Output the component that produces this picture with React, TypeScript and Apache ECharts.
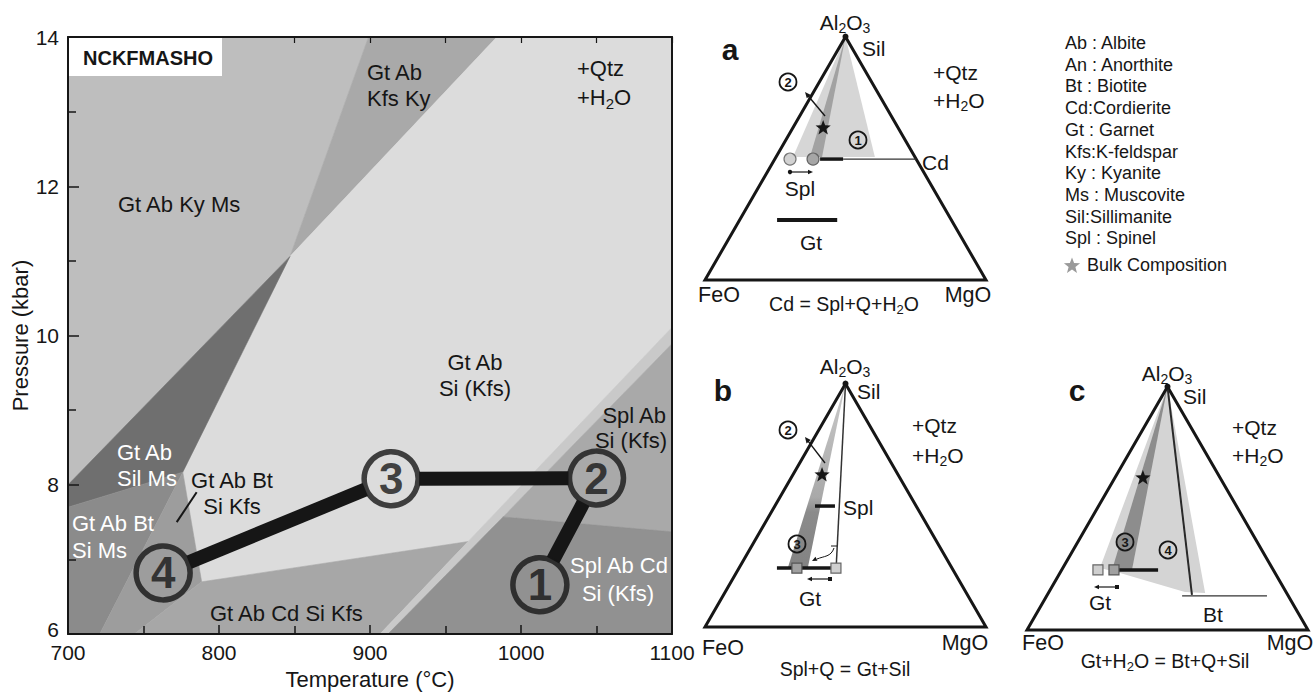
import React, { useEffect, useRef } from "react";
import * as echarts from "echarts";

const FONT = '"Liberation Sans", Arial, Helvetica, sans-serif';
const INK = "#161616";

// ---------- P-T pseudosection (left) ----------
const T_MIN = 700, T_MAX = 1100, T_STEP = 100;
const P_MIN = 6, P_MAX = 14, P_STEP = 2;

// phase fields, vertices [T (°C), P (kbar)]
const F_GT_AB_KY_MS = [[700, 14], [899, 14], [847, 11.06], [700, 8.0]];
const F_GT_AB_KFS_KY = [[899, 14], [984, 14], [847, 11.06]];
const F_GT_AB_SI_KFS = [[847, 11.06], [984, 14], [1100, 14], [1100, 10.11], [965, 7.24], [788.5, 6.7], [776, 8.17]];
const F_GT_AB_SIL_MS = [[847, 11.06], [776, 8.17], [700, 7.7], [700, 8.0]];
const F_GT_AB_BT_SI_MS = [[700, 7.7], [776, 8.17], [721, 6], [700, 6]];
const F_GT_AB_BT_SI_KFS = [[776, 8.17], [788.5, 6.7], [744, 6], [721, 6]];
const F_GT_AB_CD_SI_KFS = [[744, 6], [788.5, 6.7], [965, 7.24], [906.6, 6]];
const F_STRIP = [[906.6, 6], [1100, 10.11], [1100, 9.89], [911.9, 6]];
const F_SPL_AB_SI_KFS = [[988, 7.57], [1100, 9.89], [1100, 7.37]];
const F_SPL_AB_CD_SI_KFS = [[911.9, 6], [988, 7.57], [1100, 7.37], [1100, 6]];

const FIELDS = [
  F_GT_AB_KY_MS, F_GT_AB_KFS_KY, F_GT_AB_SI_KFS, F_GT_AB_SIL_MS, F_GT_AB_BT_SI_MS,
  F_GT_AB_BT_SI_KFS, F_GT_AB_CD_SI_KFS, F_STRIP, F_SPL_AB_SI_KFS, F_SPL_AB_CD_SI_KFS,
];
const FIELD_COLORS = [
  "#bebebe", "#a9a9a9", "#dcdcdc", "#6f6f6f", "#8b8b8b",
  "#9d9d9d", "#a7a7a7", "#c9c9c9", "#a9a9a9", "#919191",
];

// P-T path points 4 -> 3 -> 2 -> 1
const PATH_LABELS = ["4", "3", "2", "1"];
const PATH_T = [763, 914, 1050, 1012.5];
const PATH_P = [6.82, 8.08, 8.09, 6.66];
const LEADER = [[772, 7.5, 785.2, 7.9]];

// ---------- ternary diagrams (right): [Al2O3 fraction, MgO fraction] ----------
const A_LIGHT = [[1, 0], [0.505, 0.0605], [0.505, 0.352]];
const A_DARK = [[1, 0], [0.505, 0.121], [0.505, 0.164]];
const A_STAR = [0.625, 0.108];
const A_SPL_DOTS = [[0.497, 0.054], [0.497, 0.136]];
const A_SPL_BAR = [[0.497, 0.161], [0.497, 0.243]];
const A_CD_TIE = [[0.497, 0.243], [0.497, 0.503]];
const A_GT_BAR = [[0.247, 0.133], [0.247, 0.347]];

const B_WEDGE = [[1, 0], [0.247, 0.172], [0.247, 0.243]];
const B_TIE = [[1, 0], [0.25, 0.342]];
const B_STAR = [0.625, 0.104];
const B_SPL_BAR = [[0.497, 0.143], [0.497, 0.214]];
const B_GT_BAR = [[0.242, 0.135], [0.242, 0.334]];
const B_GT_SQ = [[0.242, 0.206], [0.242, 0.345]];

const C_LIGHT = [[1, 0], [0.255, 0.132], [0.234, 0.214], [0.156, 0.484], [0.152, 0.558]];
const C_DARK = [[1, 0], [0.247, 0.179], [0.247, 0.25]];
const C_TIE = [[1, 0], [0.144, 0.515]];
const C_BT = [[0.14, 0.482], [0.14, 0.784]];
const C_STAR = [0.625, 0.1];
const C_GT_BAR = [[0.247, 0.19], [0.247, 0.343]];
const C_GT_SQ = [[0.247, 0.129], [0.247, 0.186]];

const LEGEND_ITEMS = [
  "Ab : Albite", "An : Anorthite", "Bt : Biotite", "Cd:Cordierite", "Gt : Garnet",
  "Kfs:K-feldspar", "Ky : Kyanite", "Ms : Muscovite", "Sil:Sillimanite", "Spl : Spinel",
];

// ---------- helpers ----------
const TRI_SIDE = 281;
const TRI_H = (TRI_SIDE * Math.sqrt(3)) / 2;
const TA = [705, 280];
const TB = [705, 627];
const TC = [1027, 630];
function tp(o: number[], al: number, mg: number): number[] {
  return [o[0] + TRI_SIDE * (mg + al / 2), o[1] - TRI_H * al];
}
const tps = (o: number[], arr: number[][]) => arr.map((p) => tp(o, p[0], p[1]));

function chem(s: string): string {
  let out = "", buf = "";
  for (let i = 0; i < s.length; i++) {
    if (s[i] === "_") {
      if (buf) { out += `{n|${buf}}`; buf = ""; }
      out += `{s|${s[i + 1]}}`;
      i++;
    } else buf += s[i];
  }
  if (buf) out += `{n|${buf}}`;
  return out;
}

function txt(text: string, x: number, y: number, o: any = {}): any {
  const size = o.size ?? 22;
  const fill = o.fill ?? INK;
  const style: any = {
    x, y, fill, fontSize: size, fontFamily: FONT, fontWeight: o.weight ?? "normal",
    align: o.align ?? "left", verticalAlign: "middle",
  };
  if (text.indexOf("_") >= 0) {
    style.text = chem(text);
    style.rich = {
      n: { fontSize: size, fontFamily: FONT, fill, lineHeight: Math.round(size * 1.25), verticalAlign: "middle" },
      s: { fontSize: Math.round(size * 0.68), fontFamily: FONT, fill, lineHeight: Math.round(size * 0.68), verticalAlign: "bottom" },
    };
  } else style.text = text;
  return { type: "text", z: 60, silent: true, style };
}
function poly(points: number[][], fill: any, z = 20): any {
  return { type: "polygon", z, silent: true, shape: { points }, style: { fill, stroke: null } };
}
function outline(points: number[][], lw = 3): any {
  return { type: "polygon", z: 30, silent: true, shape: { points }, style: { fill: null, stroke: INK, lineWidth: lw, lineJoin: "miter" } };
}
function seg(a: number[], b: number[], lw: number, stroke = INK, z = 32): any {
  return { type: "line", z, silent: true, shape: { x1: a[0], y1: a[1], x2: b[0], y2: b[1] }, style: { stroke, lineWidth: lw } };
}
function dot(c: number[], r: number, fill: string, stroke: string | null = null, lw = 1, z = 34): any {
  return { type: "circle", z, silent: true, shape: { cx: c[0], cy: c[1], r }, style: { fill, stroke, lineWidth: lw } };
}
function square(c: number[], s: number, fill: string, stroke: string): any {
  return { type: "rect", z: 36, silent: true, shape: { x: c[0] - s / 2, y: c[1] - s / 2, width: s, height: s }, style: { fill, stroke, lineWidth: 1.2 } };
}
function head(tipX: number, tipY: number, ang: number, size = 6): any {
  const bx = tipX - size * Math.cos(ang), by = tipY - size * Math.sin(ang);
  const nx = -Math.sin(ang) * size * 0.45, ny = Math.cos(ang) * size * 0.45;
  return { type: "polygon", z: 38, silent: true, shape: { points: [[tipX, tipY], [bx + nx, by + ny], [bx - nx, by - ny]] }, style: { fill: INK } };
}
function arrow(x1: number, y1: number, x2: number, y2: number, lw = 1.4, size = 6): any[] {
  const ang = Math.atan2(y2 - y1, x2 - x1);
  const ex = x2 - size * 0.8 * Math.cos(ang), ey = y2 - size * 0.8 * Math.sin(ang);
  return [seg([x1, y1], [ex, ey], lw, INK, 38), head(x2, y2, ang, size)];
}
function star(c: number[], R: number, fill: string): any {
  const pts: number[][] = [];
  for (let k = 0; k < 10; k++) {
    const a = -Math.PI / 2 + (k * Math.PI) / 5;
    const r = k % 2 === 0 ? R : R * 0.42;
    pts.push([c[0] + r * Math.cos(a), c[1] + r * Math.sin(a)]);
  }
  return { type: "polygon", z: 40, silent: true, shape: { points: pts }, style: { fill } };
}
function numCircle(x: number, y: number, label: string, fill: string | null = null): any[] {
  return [
    dot([x, y], 8.5, fill as any, INK, 1.8, 42),
    { type: "text", z: 62, silent: true, style: { text: label, x, y: y + 0.5, fill: INK, fontSize: 13, fontWeight: "bold", fontFamily: FONT, align: "center", verticalAlign: "middle" } },
  ];
}

const EQ_SIZE = 19.5;
const CORNER_SIZE = 21.5;

function buildGraphic(): any[] {
  const g: any[] = [];
  // ---- left panel labels ----
  g.push({ type: "rect", z: 55, silent: true, shape: { x: 69, y: 38, width: 153, height: 38 }, style: { fill: "#ffffff" } });
  g.push(txt("NCKFMASHO", 83, 58, { size: 20, weight: "bold" }));
  g.push(txt("Gt Ab Ky Ms", 118, 204));
  g.push(txt("Gt Ab", 367, 72));
  g.push(txt("Kfs Ky", 367, 98));
  g.push(txt("+Qtz", 577, 68));
  g.push(txt("+H_2O", 577, 97));
  g.push(txt("Gt Ab", 475, 362, { align: "center" }));
  g.push(txt("Si (Kfs)", 475, 388, { align: "center" }));
  g.push(txt("Spl Ab", 666, 415, { align: "right" }));
  g.push(txt("Si (Kfs)", 667, 440, { align: "right" }));
  g.push(txt("Spl Ab Cd", 619, 565, { align: "center", fill: "#ffffff" }));
  g.push(txt("Si (Kfs)", 618, 593, { align: "center", fill: "#ffffff" }));
  g.push(txt("Gt Ab", 117, 452, { fill: "#ffffff" }));
  g.push(txt("Sil Ms", 117, 478, { fill: "#ffffff" }));
  g.push(txt("Gt Ab Bt", 232, 480, { align: "center" }));
  g.push(txt("Si Kfs", 232, 506, { align: "center" }));
  g.push(txt("Gt Ab Bt", 72, 523, { fill: "#ffffff" }));
  g.push(txt("Si Ms", 72, 550, { fill: "#ffffff" }));
  g.push(txt("Gt Ab Cd Si Kfs", 210, 613));

  // ---- ternary a ----
  const triA = [tp(TA, 1, 0), tp(TA, 0, 0), tp(TA, 0, 1)];
  g.push(poly(tps(TA, A_LIGHT), "#d6d6d6"));
  g.push(poly(tps(TA, A_DARK), "#a2a2a2", 21));
  g.push(outline(triA));
  const aTie = tps(TA, A_CD_TIE);
  g.push(seg(aTie[0], aTie[1], 1.3, "#333"));
  const aSpl = tps(TA, A_SPL_BAR);
  g.push(seg(aSpl[0], aSpl[1], 3.5));
  const aDots = tps(TA, A_SPL_DOTS);
  g.push(dot(aDots[0], 6, "#d2d2d2", "#777", 1.2));
  g.push(dot(aDots[1], 6, "#a6a6a6", "#666", 1.2));
  const aGt = tps(TA, A_GT_BAR);
  g.push(seg(aGt[0], aGt[1], 4));
  g.push(star(tp(TA, A_STAR[0], A_STAR[1]), 8, INK));
  g.push(dot(triA[0], 3, INK));
  g.push(...arrow(825, 116, 805, 92));
  g.push(...numCircle(788, 82, "2"));
  g.push(...numCircle(858, 140, "1"));
  g.push(dot([790, 172], 2.2, INK));
  g.push(...arrow(790, 172, 813, 172, 1.2, 5));
  g.push(txt("a", 730, 49, { size: 30, weight: "bold", align: "center" }));
  g.push(txt("Al_2O_3", 845, 22, { size: 21, align: "center" }));
  g.push(txt("Sil", 862, 48, { size: 21 }));
  g.push(txt("+Qtz", 933, 72, { size: 21 }));
  g.push(txt("+H_2O", 933, 100, { size: 21 }));
  g.push(txt("Cd", 922, 162, { size: 21 }));
  g.push(txt("Spl", 800, 188, { size: 21, align: "center" }));
  g.push(txt("Gt", 811, 242, { size: 21, align: "center" }));
  g.push(txt("FeO", 719, 295, { size: CORNER_SIZE, align: "center" }));
  g.push(txt("MgO", 968, 295, { size: CORNER_SIZE, align: "center" }));
  g.push(txt("Cd = Spl+Q+H_2O", 844, 304, { size: EQ_SIZE, align: "center" }));

  // ---- ternary b ----
  const triB = [tp(TB, 1, 0), tp(TB, 0, 0), tp(TB, 0, 1)];
  const bw = tps(TB, B_WEDGE);
  g.push(poly(bw, new (echarts as any).graphic.LinearGradient(0, 0, 0, 1, [
    { offset: 0, color: "#cacaca" }, { offset: 0.62, color: "#a9a9a9" },
    { offset: 0.7, color: "#8b8b8b" }, { offset: 1, color: "#838383" },
  ])));
  g.push(outline(triB));
  const bTie = tps(TB, B_TIE);
  g.push(seg(bTie[0], bTie[1], 1.5, "#333"));
  const bSpl = tps(TB, B_SPL_BAR);
  g.push(seg(bSpl[0], bSpl[1], 3.5));
  const bGt = tps(TB, B_GT_BAR);
  g.push(seg(bGt[0], bGt[1], 3.5));
  const bSq = tps(TB, B_GT_SQ);
  g.push(square(bSq[0], 10, "#a0a0a0", "#555"));
  g.push(square(bSq[1], 10, "#cfcfcf", "#666"));
  g.push(star(tp(TB, B_STAR[0], B_STAR[1]), 8, INK));
  g.push(dot(triB[0], 3, INK));
  g.push(...arrow(825, 463, 805, 437));
  g.push(...numCircle(788, 430, "2"));
  g.push(...numCircle(797, 544, "3"));
  g.push({ type: "bezierCurve", z: 38, silent: true, shape: { x1: 834, y1: 548, cpx1: 831, cpy1: 557, cpx2: 824, cpy2: 556, x2: 817, y2: 559 }, style: { stroke: INK, lineWidth: 1, fill: null } });
  g.push(head(812, 561, Math.atan2(3, -6), 5));
  g.push(seg([831, 546], [837, 546], 1, INK, 38));
  g.push({ type: "rect", z: 38, silent: true, shape: { x: 828, y: 577, width: 4, height: 4 }, style: { fill: INK } });
  g.push(...arrow(830, 579, 807, 579, 1.2, 5));
  g.push(txt("b", 723, 390, { size: 30, weight: "bold", align: "center" }));
  g.push(txt("Al_2O_3", 845, 366, { size: 21, align: "center" }));
  g.push(txt("Sil", 857, 391, { size: 21 }));
  g.push(txt("+Qtz", 912, 425, { size: 21 }));
  g.push(txt("+H_2O", 912, 455, { size: 21 }));
  g.push(txt("Spl", 843, 507, { size: 21 }));
  g.push(txt("Gt", 810, 598, { size: 21, align: "center" }));
  g.push(txt("FeO", 723, 648, { size: CORNER_SIZE, align: "center" }));
  g.push(txt("MgO", 965, 643, { size: CORNER_SIZE, align: "center" }));
  g.push(txt("Spl+Q = Gt+Sil", 845, 669, { size: EQ_SIZE, align: "center" }));

  // ---- ternary c ----
  const triC = [tp(TC, 1, 0), tp(TC, 0, 0), tp(TC, 0, 1)];
  g.push(poly(tps(TC, C_LIGHT), "#d4d4d4"));
  g.push(poly(tps(TC, C_DARK), "#8d8d8d", 21));
  g.push(outline(triC));
  const cTie = tps(TC, C_TIE);
  g.push(seg(cTie[0], cTie[1], 2, "#2a2a2a"));
  const cBt = tps(TC, C_BT);
  g.push(seg(cBt[0], cBt[1], 1.3, "#333"));
  const cGt = tps(TC, C_GT_BAR);
  g.push(seg(cGt[0], cGt[1], 3.5));
  const cSq = tps(TC, C_GT_SQ);
  g.push(square(cSq[0], 10, "#cfcfcf", "#666"));
  g.push(square(cSq[1], 10, "#a0a0a0", "#555"));
  g.push(star(tp(TC, C_STAR[0], C_STAR[1]), 8, INK));
  g.push(dot(triC[0], 3, INK));
  g.push(...numCircle(1125, 542, "3", "#8d8d8d"));
  g.push(...numCircle(1168, 550, "4"));
  g.push({ type: "rect", z: 38, silent: true, shape: { x: 1115, y: 585, width: 4, height: 4 }, style: { fill: INK } });
  g.push(...arrow(1117, 587, 1094, 587, 1.2, 5));
  g.push(txt("c", 1077, 390, { size: 30, weight: "bold", align: "center" }));
  g.push(txt("Al_2O_3", 1167, 373, { size: 21, align: "center" }));
  g.push(txt("Sil", 1183, 396, { size: 21 }));
  g.push(txt("+Qtz", 1232, 427, { size: 21 }));
  g.push(txt("+H_2O", 1232, 455, { size: 21 }));
  g.push(txt("Gt", 1100, 602, { size: 21, align: "center" }));
  g.push(txt("Bt", 1213, 614, { size: 21, align: "center" }));
  g.push(txt("FeO", 1043, 643, { size: CORNER_SIZE, align: "center" }));
  g.push(txt("MgO", 1290, 643, { size: CORNER_SIZE, align: "center" }));
  g.push(txt("Gt+H_2O = Bt+Q+Sil", 1165, 661, { size: EQ_SIZE, align: "center" }));

  // ---- legend ----
  const LEG_Y0 = 43, LEG_DY = 21.7;
  LEGEND_ITEMS.forEach((s, i) => g.push(txt(s, 1065, LEG_Y0 + i * LEG_DY, { size: 18 })));
  g.push(star([1072, 266], 8.5, "#9a9a9a"));
  g.push(txt("Bulk Composition", 1087, 265, { size: 18 }));
  return g;
}

function buildOption(): any {
  const axisText = { fontSize: 22, fontFamily: FONT, color: INK };
  return {
    animation: false,
    backgroundColor: "#ffffff",
    grid: { left: 68, top: 37, width: 604, height: 603, containLabel: false },
    xAxis: [
      {
        type: "value", min: T_MIN, max: T_MAX, interval: T_STEP, position: "bottom", z: 10,
        name: "Temperature (°C)", nameLocation: "middle", nameGap: 32, nameTextStyle: axisText,
        axisLine: { show: true, onZero: false, lineStyle: { color: INK, width: 2 } },
        axisTick: { show: true, inside: true, length: 9, lineStyle: { color: INK, width: 1.5 } },
        minorTick: { show: true, splitNumber: 2, length: 8, lineStyle: { color: INK, width: 1.5 } },
        axisLabel: { ...axisText, fontSize: 21, margin: 8, formatter: (v: number) => String(v) },
        splitLine: { show: false }, minorSplitLine: { show: false },
      },
      {
        type: "value", min: T_MIN, max: T_MAX, interval: T_STEP, position: "top", z: 10,
        axisLine: { show: true, onZero: false, lineStyle: { color: INK, width: 2 } },
        axisTick: { show: true, inside: true, length: 6, lineStyle: { color: INK, width: 1.2 } },
        minorTick: { show: true, splitNumber: 2, length: 6, lineStyle: { color: INK, width: 1.2 } },
        axisLabel: { show: false }, splitLine: { show: false },
      },
    ],
    yAxis: [
      {
        type: "value", min: P_MIN, max: P_MAX, interval: P_STEP, position: "left", z: 10,
        name: "Pressure (kbar)", nameLocation: "middle", nameGap: 33, nameTextStyle: axisText,
        axisLine: { show: true, onZero: false, lineStyle: { color: INK, width: 2 } },
        axisTick: { show: true, inside: true, length: 11, lineStyle: { color: INK, width: 1.5 } },
        minorTick: { show: true, splitNumber: 2, length: 8, lineStyle: { color: INK, width: 1.5 } },
        axisLabel: {
          ...axisText, fontSize: 21, margin: 9,
          formatter: (v: number) => (v === P_MIN ? `{lo|${v}}` : String(v)),
          rich: { lo: { fontSize: 21, fontFamily: FONT, color: INK, padding: [0, 0, 10, 0] } },
        },
        splitLine: { show: false }, minorSplitLine: { show: false },
      },
      {
        type: "value", min: P_MIN, max: P_MAX, interval: P_STEP, position: "right", z: 10,
        axisLine: { show: true, onZero: false, lineStyle: { color: INK, width: 2 } },
        axisTick: { show: false }, axisLabel: { show: false }, splitLine: { show: false },
      },
    ],
    series: [
      {
        type: "custom", coordinateSystem: "cartesian2d", silent: true, z: 1,
        data: FIELDS.map((_, i) => [T_MIN, P_MIN, i]),
        encode: { x: 0, y: 1 },
        renderItem: (_p: any, api: any) => {
          const i = api.value(2);
          const pts = FIELDS[i].map((q) => api.coord(q));
          return { type: "polygon", shape: { points: pts }, style: { fill: FIELD_COLORS[i], stroke: FIELD_COLORS[i], lineWidth: 0.6 } };
        },
      },
      {
        type: "custom", coordinateSystem: "cartesian2d", silent: true, z: 3,
        data: LEADER,
        encode: { x: [0, 2], y: [1, 3] },
        renderItem: (_p: any, api: any) => {
          const a = api.coord([api.value(0), api.value(1)]);
          const b = api.coord([api.value(2), api.value(3)]);
          return { type: "line", shape: { x1: a[0], y1: a[1], x2: b[0], y2: b[1] }, style: { stroke: INK, lineWidth: 2 } };
        },
      },
      {
        type: "custom", coordinateSystem: "cartesian2d", silent: true, z: 4,
        data: PATH_T.slice(0, -1).map((t, i) => [t, PATH_P[i], PATH_T[i + 1], PATH_P[i + 1]]),
        encode: { x: [0, 2], y: [1, 3] },
        renderItem: (_p: any, api: any) => {
          const a = api.coord([api.value(0), api.value(1)]);
          const b = api.coord([api.value(2), api.value(3)]);
          const dx = b[0] - a[0], dy = b[1] - a[1];
          const L = Math.hypot(dx, dy), r = 28;
          return {
            type: "line",
            shape: { x1: a[0] + (dx / L) * r, y1: a[1] + (dy / L) * r, x2: b[0] - (dx / L) * r, y2: b[1] - (dy / L) * r },
            style: { stroke: INK, lineWidth: 14 },
          };
        },
      },
      {
        type: "scatter", silent: true, z: 5,
        data: PATH_T.map((t, i) => ({ value: [t, PATH_P[i]], name: PATH_LABELS[i] })),
        symbol: "circle", symbolSize: 54,
        itemStyle: { color: "rgba(0,0,0,0)", borderColor: INK, borderWidth: 5.5 },
        label: { show: true, position: "inside", formatter: (p: any) => p.name, fontSize: 44, fontWeight: "bold", fontFamily: FONT, color: INK },
      },
    ],
    graphic: { elements: buildGraphic() },
  };
}

export default function App() {
  const ref = useRef<HTMLDivElement>(null);
  useEffect(() => {
    const chart = echarts.init(ref.current as HTMLDivElement, undefined, { renderer: "svg" });
    chart.setOption(buildOption());
    return () => chart.dispose();
  }, []);
  return (
    <div
      ref={ref}
      style={{ position: "absolute", left: 0, top: 0, width: 1314, height: 695, background: "#ffffff" }}
    />
  );
}
